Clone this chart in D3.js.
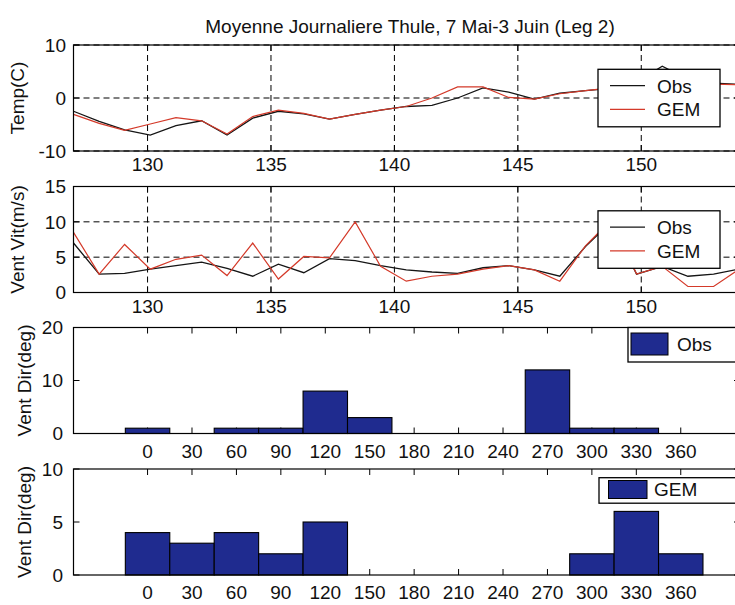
<!DOCTYPE html>
<html><head><meta charset="utf-8">
<script src="https://cdn.jsdelivr.net/npm/d3@7"></script>
<style>
body{margin:0;background:#fff}
svg{display:block}
text{font-family:"Liberation Sans",Arial,Helvetica,sans-serif;fill:#111}
</style></head><body>
<svg id="c" width="735" height="605"></svg>
<script>
// ---- data ----
const days = [127.00,128.04,129.07,130.11,131.15,132.19,133.22,134.26,135.30,136.33,137.37,138.41,139.44,140.48,
              141.52,142.56,143.59,144.63,145.67,146.70,147.74,148.78,149.81,150.85,151.89,152.93,153.96,155.00];
const tempObs = [-2.5,-4.4,-6.0,-7.0,-5.2,-4.3,-7.0,-3.8,-2.5,-3.0,-4.0,-3.1,-2.3,-1.6,
                 -1.4,0.0,1.9,1.1,-0.2,0.9,1.4,1.8,3.0,6.0,3.5,2.8,2.6,2.5];
const tempGem = [-3.1,-4.8,-6.1,-4.9,-3.7,-4.3,-6.8,-3.5,-2.3,-2.9,-4.0,-3.1,-2.3,-1.6,
                 0.0,2.1,2.1,0.1,-0.2,0.8,1.4,1.9,2.5,4.0,3.2,2.6,2.5,2.5];
const windObs = [7.0,2.6,2.7,3.3,3.8,4.3,3.4,2.3,4.0,2.8,4.8,4.5,3.8,3.2,
                 2.9,2.7,3.5,3.8,3.2,2.3,6.5,10.0,2.6,3.7,2.3,2.6,3.3,3.5];
const windGem = [8.5,2.6,6.8,3.3,4.7,5.3,2.4,7.0,1.9,5.1,4.9,10.0,3.7,1.6,
                 2.3,2.6,3.3,3.8,3.2,1.6,6.6,10.3,2.6,3.7,0.85,0.85,3.3,3.5];
const dirBins = [0,30,60,90,120,150,180,210,240,270,300,330,360];
const dirObs  = [1,0,1,1,8,3,0,0,0,12,1,1,0];
const dirGem  = [4,3,4,2,5,0,0,0,0,0,2,6,2];
const dayTicks = [130,135,140,145,150];
const tempTicks = [-10,0,10];
const windTicks = [0,5,10,15];
const dirObsTicks = [0,10,20];
const dirGemTicks = [0,5,10];
const seriesNames = ["Obs","GEM"];
const titleText = "Moyenne Journaliere Thule, 7 Mai-3 Juin (Leg 2)";
const yLabels = ["Temp(C)","Vent Vit(m/s)","Vent Dir(deg)","Vent Dir(deg)"];

// ---- layout ----
const svg = d3.select("#c");
const xL = 73.5, xR = 740, PH = 106;
const tops = [45, 186.5, 327.5, 469];
const FS = 19;
const colObs = "#151515", colGem = "#d43a2a", barCol = "#1f2b8f";

const xDay = d3.scaleLinear().domain([127,154]).range([xL,xR]);
const xDir = d3.scaleLinear().domain([-50,400]).range([xL,xR]);

svg.append("text").attr("x",410).attr("y",33).attr("text-anchor","middle")
  .style("font-size",FS+"px").text(titleText);

function frame(k, x, y, xt, yt, grid, xLabelOff, yLabRight, yLabX){
  const top = tops[k], bot = top+PH;
  const g = svg.append("g");
  if(grid){
    g.selectAll(".gv").data(xt).join("line")
      .attr("x1",d=>x(d)).attr("x2",d=>x(d)).attr("y1",top).attr("y2",bot)
      .attr("stroke","#000").attr("stroke-width",1).attr("stroke-dasharray","6,4");
    g.selectAll(".gh").data(yt).join("line")
      .attr("x1",xL).attr("x2",xR).attr("y1",d=>y(d)).attr("y2",d=>y(d))
      .attr("stroke","#000").attr("stroke-width",1).attr("stroke-dasharray","6,4");
  }
  // ticks
  const tl = 6;
  xt.forEach(d=>{
    g.append("line").attr("x1",x(d)).attr("x2",x(d)).attr("y1",bot).attr("y2",bot-tl).attr("stroke","#000");
    g.append("line").attr("x1",x(d)).attr("x2",x(d)).attr("y1",top).attr("y2",top+tl).attr("stroke","#000");
  });
  yt.forEach(d=>{
    g.append("line").attr("x1",xL).attr("x2",xL+tl).attr("y1",y(d)).attr("y2",y(d)).attr("stroke","#000");
    g.append("line").attr("x1",xR).attr("x2",xR-tl).attr("y1",y(d)).attr("y2",y(d)).attr("stroke","#000");
  });
  g.selectAll(".xl").data(xt).join("text")
    .attr("x",d=>x(d)).attr("y",bot+xLabelOff).attr("text-anchor","middle")
    .style("font-size",FS+"px").text(d=>d);
  g.selectAll(".yl").data(yt).join("text")
    .attr("x",yLabRight).attr("y",d=>y(d)).attr("dy","0.36em").attr("text-anchor","end")
    .style("font-size",FS+"px").text(d=>d);
  svg.append("text").attr("transform",`translate(${yLabX},${top+PH/2}) rotate(-90)`)
    .attr("text-anchor","middle").style("font-size",FS+"px").text(yLabels[k]);
  return g;
}
function box(k){
  svg.append("rect").attr("x",xL).attr("y",tops[k]).attr("width",xR-xL).attr("height",PH)
    .attr("fill","none").attr("stroke","#000").attr("stroke-width",1.2);
}

// clip for line panels
const defs = svg.append("defs");
[0,1].forEach(k=>{
  defs.append("clipPath").attr("id","cp"+k).append("rect")
    .attr("x",xL).attr("y",tops[k]).attr("width",xR-xL).attr("height",PH);
});

function linePanel(k, domain, yt, obs, gem){
  const y = d3.scaleLinear().domain(domain).range([tops[k]+PH, tops[k]]);
  frame(k, xDay, y, dayTicks, yt, true, 20, 66, 24);
  const ln = d3.line().x((d,i)=>xDay(days[i])).y(d=>y(d));
  const g = svg.append("g").attr("clip-path",`url(#cp${k})`);
  g.append("path").datum(obs).attr("d",ln).attr("fill","none").attr("stroke",colObs).attr("stroke-width",1.3);
  g.append("path").datum(gem).attr("d",ln).attr("fill","none").attr("stroke",colGem).attr("stroke-width",1.2);
  box(k);
  // legend
  const lx=598, ly=tops[k]+24.3, lw=122, lh=57.5;
  svg.append("rect").attr("x",lx).attr("y",ly).attr("width",lw).attr("height",lh)
    .attr("fill","#fff").attr("stroke","#000").attr("stroke-width",1.3);
  [colObs,colGem].forEach((c,i)=>{
    const ry = ly+16.4+i*23.6;
    svg.append("line").attr("x1",lx+12).attr("x2",lx+47).attr("y1",ry).attr("y2",ry)
      .attr("stroke",c).attr("stroke-width",1.3);
    svg.append("text").attr("x",lx+59).attr("y",ry).attr("dy","0.36em")
      .style("font-size",FS+"px").text(seriesNames[i]);
  });
}
linePanel(0,[-10,10],tempTicks,tempObs,tempGem);
linePanel(1,[0,15],windTicks,windObs,windGem);

function barPanel(k, domainMax, yt, vals, name, leg){
  const y = d3.scaleLinear().domain([0,domainMax]).range([tops[k]+PH, tops[k]]);
  frame(k, xDir, y, dirBins, yt, false, 24, 63, 31);
  const bw = xDir(30)-xDir(0);
  svg.append("g").selectAll("rect").data(vals).join("rect")
    .attr("x",(d,i)=>xDir(dirBins[i])-bw/2).attr("width",bw)
    .attr("y",d=>y(d)).attr("height",d=>y(0)-y(d))
    .attr("fill",barCol).attr("stroke","#000").attr("stroke-width",1.1)
    .attr("display",d=>d>0?null:"none");
  box(k);
  svg.append("rect").attr("x",leg.x).attr("y",leg.y).attr("width",leg.w).attr("height",leg.h)
    .attr("fill","#fff").attr("stroke","#000").attr("stroke-width",1.3);
  svg.append("rect").attr("x",leg.px).attr("y",leg.py).attr("width",leg.pw).attr("height",leg.ph)
    .attr("fill",barCol).attr("stroke","#000").attr("stroke-width",1);
  svg.append("text").attr("x",leg.tx).attr("y",leg.py+leg.ph/2).attr("dy","0.36em")
    .style("font-size",FS+"px").text(name);
}
barPanel(2,20,dirObsTicks,dirObs,"Obs",{x:628,y:327.5,w:109,h:34.5,px:631,py:333,pw:37,ph:22,tx:677});
barPanel(3,10,dirGemTicks,dirGem,"GEM",{x:599,y:477.7,w:138,h:25.5,px:608.5,py:480.5,pw:38.5,ph:18,tx:654});
</script>
</body></html>
